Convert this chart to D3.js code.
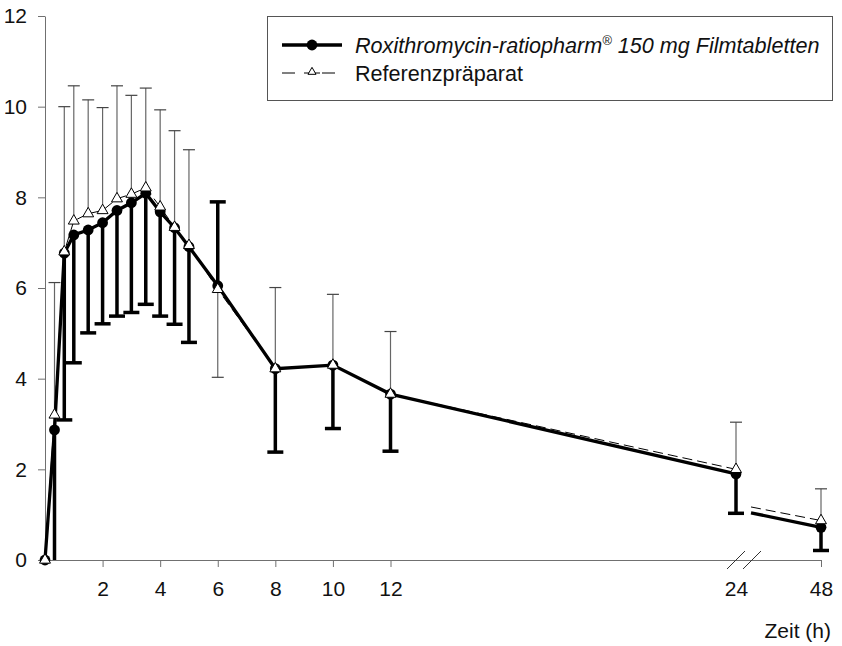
<!DOCTYPE html>
<html><head><meta charset="utf-8">
<script src="https://cdn.jsdelivr.net/npm/d3@7"></script>
<style>body{margin:0;background:#fff}</style>
</head><body><svg id="c" width="842" height="646"></svg>
<script>
// ---- data ----
const times    = [0, 0.33, 0.67, 1, 1.5, 2, 2.5, 3, 3.5, 4, 4.5, 5, 6, 8, 10, 12, 24, 48];
const testMean = [0, 2.87, 6.77, 7.17, 7.28, 7.44, 7.71, 7.88, 8.09, 7.68, 7.33, 6.91, 6.05, 4.22, 4.30, 3.66, 1.90, 0.72];
const refMean  = [0, 3.20, 6.80, 7.48, 7.64, 7.71, 7.97, 8.07, 8.21, 7.79, 7.34, 6.94, 5.97, 4.22, 4.30, 3.66, 2.00, 0.87];
// end value of each SD bar (test drawn mostly downward, reference mostly upward)
const testBarEnd = [null, -0.3, 3.09, 4.35, 5.01, 5.21, 5.38, 5.46, 5.64, 5.38, 5.20, 4.80, 7.90, 2.38, 2.90, 2.40, 1.03, 0.21];
const refBarEnd  = [null, 6.12, 10.00, 10.46, 10.15, 9.98, 10.46, 10.25, 10.41, 9.93, 9.47, 9.05, 4.03, 6.01, 5.86, 5.04, 3.04, 1.57];
// values where the lines resume after the axis break (24 h -> 48 h)
const testBreakStart = 1.04;
const refBreakStart  = 1.17;
const yTicks = [0, 2, 4, 6, 8, 10, 12];
const xTicks = [2, 4, 6, 8, 10, 12, 24, 48];
const legendLabels = ["Roxithromycin-ratiopharm", "\u00AE", " 150 mg Filmtabletten", "Referenzpräparat"];
const xLabel = "Zeit (h)";

// ---- layout ----
const font = "'Liberation Sans', Arial, Helvetica, sans-serif";
const svg = d3.select("#c");
const x = d3.scaleLinear().domain([0, 24, 48]).range([45, 736, 821]);
const y = d3.scaleLinear().domain([0, 12]).range([560, 16]);
const axisCol = "#707070";

svg.append("defs").append("clipPath").attr("id", "plotclip")
  .append("rect").attr("x", 0).attr("y", 0).attr("width", 842).attr("height", y(0));

// y axis
const gy = svg.append("g").attr("transform", `translate(${x(0)},0)`)
  .call(d3.axisLeft(y).tickValues(yTicks).tickSize(7).tickSizeOuter(0).tickPadding(11));
gy.select(".domain").attr("stroke", axisCol);
gy.selectAll(".tick line").attr("stroke", axisCol);
gy.selectAll("text").attr("font-size", 21).attr("font-family", font).attr("fill", "#111");

// x axis
const gx = svg.append("g").attr("transform", `translate(0,${y(0)})`)
  .call(d3.axisBottom(x).tickValues(xTicks).tickSize(7).tickSizeOuter(0).tickPadding(14));
gx.select(".domain").attr("stroke", axisCol);
gx.selectAll(".tick line").attr("stroke", axisCol).filter(d => d === 24).remove();
gx.selectAll("text").attr("font-size", 21).attr("font-family", font).attr("fill", "#111");

// break marks
const xb = x(24);
[-9, 7].forEach(a => {
  svg.append("line").attr("x1", xb + a).attr("y1", y(0) + 9).attr("x2", xb + a + 18).attr("y2", y(0) - 9)
    .attr("stroke", "#333").attr("stroke-width", 1);
});

svg.append("text").attr("x", 831).attr("y", 638).attr("text-anchor", "end")
  .attr("font-size", 21).attr("font-family", font).attr("fill", "#111").text(xLabel);

const idx = d3.range(times.length);
const plot = svg.append("g");
const bars = plot.append("g").attr("clip-path", "url(#plotclip)");

// reference SD bars
idx.filter(i => refBarEnd[i] !== null).forEach(i => {
  const cx = x(times[i]);
  bars.append("line").attr("x1", cx).attr("x2", cx).attr("y1", y(refMean[i])).attr("y2", y(refBarEnd[i]))
    .attr("stroke", "#666").attr("stroke-width", 1.2);
  bars.append("line").attr("x1", cx - 6).attr("x2", cx + 6).attr("y1", y(refBarEnd[i])).attr("y2", y(refBarEnd[i]))
    .attr("stroke", "#444").attr("stroke-width", 1.2);
});
// test SD bars
idx.filter(i => testBarEnd[i] !== null).forEach(i => {
  const cx = x(times[i]);
  bars.append("line").attr("x1", cx).attr("x2", cx).attr("y1", y(testMean[i])).attr("y2", y(testBarEnd[i]))
    .attr("stroke", "#000").attr("stroke-width", 3.5);
  bars.append("line").attr("x1", cx - 8).attr("x2", cx + 8).attr("y1", y(testBarEnd[i])).attr("y2", y(testBarEnd[i]))
    .attr("stroke", "#000").attr("stroke-width", 3.5);
});

// lines
const line = d3.line().x(d => d[0]).y(d => y(d[1]));
const before = idx.filter(i => times[i] <= 24);
const last = times.length - 1;
const gapX = x(24) + 15;
const refA = before.map(i => [x(times[i]), refMean[i]]);
const refB = [[gapX, refBreakStart], [x(times[last]), refMean[last]]];
const testA = before.map(i => [x(times[i]), testMean[i]]);
const testB = [[gapX, testBreakStart], [x(times[last]), testMean[last]]];
[refA, refB].forEach(p => plot.append("path").attr("d", line(p)).attr("fill", "none")
  .attr("stroke", "#000").attr("stroke-width", 1).attr("stroke-dasharray", "10,5"));
[testA, testB].forEach(p => plot.append("path").attr("d", line(p)).attr("fill", "none")
  .attr("stroke", "#000").attr("stroke-width", 3.3));

// markers
idx.forEach(i => {
  plot.append("circle").attr("cx", x(times[i])).attr("cy", y(testMean[i])).attr("r", 5.4).attr("fill", "#000");
});
const tri = d3.symbol().type(d3.symbolTriangle).size(52);
idx.forEach(i => {
  plot.append("path").attr("d", tri()).attr("transform", `translate(${x(times[i])},${y(refMean[i])})`)
    .attr("fill", "#fff").attr("stroke", "#000").attr("stroke-width", 1);
});

// legend
const lg = svg.append("g");
lg.append("rect").attr("x", 267.5).attr("y", 16.5).attr("width", 565).attr("height", 84)
  .attr("fill", "#fff").attr("stroke", "#555").attr("stroke-width", 1);
lg.append("line").attr("x1", 282).attr("x2", 342).attr("y1", 45).attr("y2", 45).attr("stroke", "#000").attr("stroke-width", 3.3);
lg.append("circle").attr("cx", 312).attr("cy", 45).attr("r", 5.4).attr("fill", "#000");
const t1 = lg.append("text").attr("x", 355).attr("y", 52.5).attr("font-size", 21.6).attr("font-family", font)
  .attr("font-style", "italic").attr("fill", "#111");
t1.append("tspan").text(legendLabels[0]);
t1.append("tspan").attr("font-size", 13).attr("dy", -8).text(legendLabels[1]);
t1.append("tspan").attr("dy", 8).text(legendLabels[2]);
lg.append("line").attr("x1", 282).attr("x2", 295).attr("y1", 73).attr("y2", 73).attr("stroke", "#000").attr("stroke-width", 1);
lg.append("line").attr("x1", 304).attr("x2", 320).attr("y1", 73).attr("y2", 73).attr("stroke", "#000").attr("stroke-width", 1);
lg.append("line").attr("x1", 322).attr("x2", 335).attr("y1", 73).attr("y2", 73).attr("stroke", "#000").attr("stroke-width", 1);
lg.append("path").attr("d", d3.symbol().type(d3.symbolTriangle).size(28)()).attr("transform", "translate(312,72)")
  .attr("fill", "#fff").attr("stroke", "#000").attr("stroke-width", 1);
lg.append("text").attr("x", 355).attr("y", 80.5).attr("font-size", 21.6).attr("font-family", font)
  .attr("fill", "#111").text(legendLabels[3]);
</script>
</body></html>
